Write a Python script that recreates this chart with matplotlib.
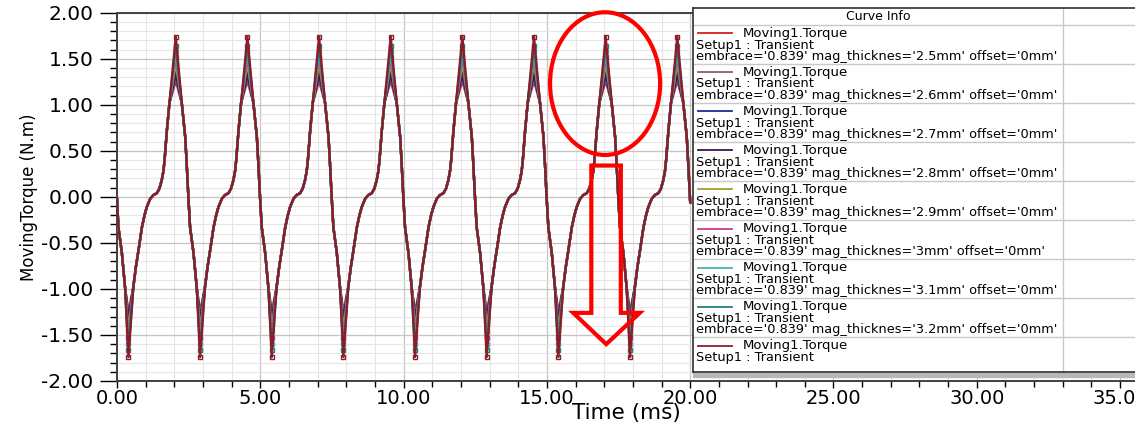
import matplotlib
matplotlib.use("Agg")
import matplotlib.pyplot as plt
import numpy as np
from matplotlib import font_manager
from matplotlib.patches import Ellipse, Polygon, Rectangle
from matplotlib.ticker import MultipleLocator, FormatStrFormatter

# shared part of the torque waveform (identical for all curves), time in ms
shared_t = [
    0.00, 0.05, 0.17, 0.28,
    0.57, 0.66, 0.75, 0.87, 0.96, 1.04, 1.16, 1.27, 1.39, 1.48, 1.56, 1.62, 1.66, 1.74, 1.83,
    2.26, 2.38, 2.43, 2.49, 2.55, 2.67, 2.78,
    3.07, 3.16, 3.25, 3.37, 3.46, 3.54, 3.66, 3.77, 3.89, 3.98, 4.06, 4.12, 4.16, 4.24, 4.33,
    4.76, 4.88, 4.93, 4.99, 5.05, 5.17, 5.28,
    5.57, 5.66, 5.75, 5.87, 5.96, 6.04, 6.16, 6.27, 6.39, 6.48, 6.56, 6.62, 6.66, 6.74, 6.83,
    7.26, 7.38, 7.43, 7.49, 7.55, 7.67, 7.78,
    8.07, 8.16, 8.25, 8.37, 8.46, 8.54, 8.66, 8.77, 8.89, 8.98, 9.06, 9.12, 9.16, 9.24, 9.33,
    9.76, 9.88, 9.93, 9.99, 10.05, 10.17, 10.28,
    10.57, 10.66, 10.75, 10.87, 10.96, 11.04, 11.16, 11.27, 11.39, 11.48, 11.56, 11.62, 11.66, 11.74, 11.83,
    12.26, 12.38, 12.43, 12.49, 12.55, 12.67, 12.78,
    13.07, 13.16, 13.25, 13.37, 13.46, 13.54, 13.66, 13.77, 13.89, 13.98, 14.06, 14.12, 14.16, 14.24, 14.33,
    14.76, 14.88, 14.93, 14.99, 15.05, 15.17, 15.28,
    15.57, 15.66, 15.75, 15.87, 15.96, 16.04, 16.16, 16.27, 16.39, 16.48, 16.56, 16.62, 16.66, 16.74, 16.83,
    17.26, 17.38, 17.43, 17.49, 17.55, 17.67, 17.78,
    18.07, 18.16, 18.25, 18.37, 18.46, 18.54, 18.66, 18.77, 18.89, 18.98, 19.06, 19.12, 19.16, 19.24, 19.33,
    19.76, 19.88, 19.93, 20.00,
]
shared_v = [
    -0.02, -0.33, -0.61, -0.98,
    -0.98, -0.76, -0.58, -0.33, -0.20, -0.11, -0.02, 0.02, 0.04, 0.09, 0.18, 0.28, 0.40, 0.72, 1.02,
    1.02, 0.65, 0.37, 0.00, -0.33, -0.61, -0.98,
    -0.98, -0.76, -0.58, -0.33, -0.20, -0.11, -0.02, 0.02, 0.04, 0.09, 0.18, 0.28, 0.40, 0.72, 1.02,
    1.02, 0.65, 0.37, 0.00, -0.33, -0.61, -0.98,
    -0.98, -0.76, -0.58, -0.33, -0.20, -0.11, -0.02, 0.02, 0.04, 0.09, 0.18, 0.28, 0.40, 0.72, 1.02,
    1.02, 0.65, 0.37, 0.00, -0.33, -0.61, -0.98,
    -0.98, -0.76, -0.58, -0.33, -0.20, -0.11, -0.02, 0.02, 0.04, 0.09, 0.18, 0.28, 0.40, 0.72, 1.02,
    1.02, 0.65, 0.37, 0.00, -0.33, -0.61, -0.98,
    -0.98, -0.76, -0.58, -0.33, -0.20, -0.11, -0.02, 0.02, 0.04, 0.09, 0.18, 0.28, 0.40, 0.72, 1.02,
    1.02, 0.65, 0.37, 0.00, -0.33, -0.61, -0.98,
    -0.98, -0.76, -0.58, -0.33, -0.20, -0.11, -0.02, 0.02, 0.04, 0.09, 0.18, 0.28, 0.40, 0.72, 1.02,
    1.02, 0.65, 0.37, 0.00, -0.33, -0.61, -0.98,
    -0.98, -0.76, -0.58, -0.33, -0.20, -0.11, -0.02, 0.02, 0.04, 0.09, 0.18, 0.28, 0.40, 0.72, 1.02,
    1.02, 0.65, 0.37, 0.00, -0.33, -0.61, -0.98,
    -0.98, -0.76, -0.58, -0.33, -0.20, -0.11, -0.02, 0.02, 0.04, 0.09, 0.18, 0.28, 0.40, 0.72, 1.02,
    1.02, 0.65, 0.37, -0.06,
]
peak_t = [2.05, 4.55, 7.05, 9.55, 12.05, 14.55, 17.05, 19.55]
trough_t = [0.40, 2.90, 5.40, 7.90, 10.40, 12.90, 15.40, 17.90]

# per-curve peak / trough torque (N.m)
thickness = ["2.5mm", "2.6mm", "2.7mm", "2.8mm", "2.9mm", "3mm", "3.1mm", "3.2mm", None]
peak_v = [1.26, 1.30, 1.33, 1.37, 1.45, 1.52, 1.58, 1.64, 1.74]
trough_v = [-1.25, -1.29, -1.33, -1.38, -1.46, -1.53, -1.60, -1.66, -1.74]
colors = ["#d42020", "#8c5a78", "#1c2c9c", "#3c1450", "#a0a030",
          "#c83c8c", "#40b4b4", "#208080", "#8c1c28"]

have = {f.name for f in font_manager.fontManager.ttflist}
if "Liberation Sans Narrow" in have:
    ylab_font, ylab_size = "Liberation Sans Narrow", 15.5
else:
    ylab_font, ylab_size = "DejaVu Sans", 12

W, H = 1135, 423
fig = plt.figure(figsize=(W / 100, H / 100), dpi=100)
ax = fig.add_axes([117 / W, 1 - 381 / H, 1 - 117 / W, (381 - 12.7) / H])

for i in range(len(peak_v)):
    t = np.concatenate([shared_t, peak_t, trough_t])
    v = np.concatenate([shared_v, [peak_v[i]] * len(peak_t), [trough_v[i]] * len(trough_t)])
    order = np.argsort(t)
    t, v = t[order], v[order]
    # square symbols on the peaks and troughs, as in the Maxwell plot
    extremes = np.flatnonzero(np.isin(t, peak_t + trough_t))
    ax.plot(t, v, color=colors[i], lw=1.7, marker="s", ms=3.5, mfc="none", mew=1.0,
            markevery=list(extremes), zorder=3 + i)

ax.set_xlim(0, 35.52)
ax.set_ylim(-2, 2)
ax.xaxis.set_major_locator(MultipleLocator(5))
ax.xaxis.set_minor_locator(MultipleLocator(1))
ax.yaxis.set_major_locator(MultipleLocator(0.5))
ax.yaxis.set_minor_locator(MultipleLocator(0.1))
ax.xaxis.set_major_formatter(FormatStrFormatter("%.2f"))
ax.yaxis.set_major_formatter(FormatStrFormatter("%.2f"))
ax.grid(which="minor", color="#e6e6e6", lw=0.8)
ax.grid(which="major", color="#c4c4c4", lw=0.9)
ax.set_axisbelow(True)

ax.tick_params(axis="x", which="major", length=5, width=1, pad=0.5, labelsize=14)
ax.tick_params(axis="x", which="minor", length=4, width=1)
ax.tick_params(axis="y", which="major", length=12, width=1, pad=5, labelsize=14.5)
ax.tick_params(axis="y", which="minor", length=5, width=1)
for sp in ["left", "bottom", "top"]:
    ax.spines[sp].set_color("#404040")
    ax.spines[sp].set_linewidth(1.4)
ax.spines["right"].set_visible(False)

ax.set_xlabel("Time (ms)", fontsize=15.5, labelpad=-3)
ax.set_ylabel("MovingTorque (N.m)", fontsize=ylab_size, family=ylab_font, labelpad=2)

# red highlight marks
ax.add_patch(Ellipse((17.03, 1.23), 3.84, 1.55, fill=False, ec="#ff0000", lw=3, zorder=20, clip_on=False))
ax.add_patch(Polygon([(16.55, 0.34), (17.58, 0.34), (17.58, -1.26), (18.24, -1.26),
                      (17.07, -1.60), (15.92, -1.26), (16.55, -1.26)], closed=True,
                     fill=False, ec="#ff0000", lw=3, joinstyle="miter", zorder=20))

# "Curve Info" table legend
lax = fig.add_axes([693 / W, 1 - 372 / H, (W - 693) / W, (372 - 8) / H])
lax.set_xlim(0, W - 693)
lax.set_ylim(364, 0)
lax.set_xticks([])
lax.set_yticks([])
for sp in ["left", "top", "bottom"]:
    lax.spines[sp].set_color("#303030")
    lax.spines[sp].set_linewidth(1.2)
lax.spines["right"].set_visible(False)
lax.add_patch(Rectangle((0, 365), W - 693, 4, color="#b8b8b8", clip_on=False))

lax.text(185, 8.5, "Curve Info", ha="center", va="center", fontsize=9)
lax.axvline(370, color="#c8c8c8", lw=1)
row_h = 39
row0 = 17
lax.axhline(row0, color="#c8c8c8", lw=1)
for i, th in enumerate(thickness):
    r = row0 + i * row_h
    if i > 0:
        lax.axhline(r, color="#c8c8c8", lw=1)
    lax.plot([5, 39], [r + 8.5, r + 8.5], color=colors[i], lw=1.3)
    lax.text(50, r + 8.5, "Moving1.Torque", va="center", fontsize=9.5)
    lax.text(3, r + 20, "Setup1 : Transient", va="center", fontsize=9.3)
    if th is not None:
        lax.text(3, r + 31.5, f"embrace='0.839' mag_thicknes='{th}' offset='0mm'",
                 va="center", fontsize=9.3)

fig.savefig("out.png", dpi=100)
